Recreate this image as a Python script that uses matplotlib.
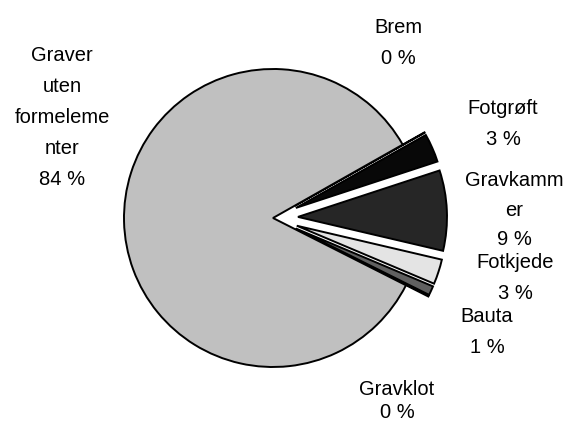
import matplotlib.pyplot as plt

plt.rcParams['font.family'] = ['Liberation Sans', 'DejaVu Sans']

# slices in clockwise order, starting at the upper edge of the big slice
categories = ['Brem', 'Fotgrøft', 'Gravkammer', 'Fotkjede', 'Bauta', 'Gravklot',
              'Graver uten formelementer']
shares = [0.05, 3.1, 8.7, 2.7, 1.0, 0.1, 84.35]
label_texts = ['Brem\n0 %', 'Fotgrøft\n3 %', 'Gravkamm\ner\n9 %', 'Fotkjede\n3 %',
               'Bauta\n1 %', 'Gravklot\n0 %', 'Graver\nuten\nformeleme\nnter\n84 %']

colors = ['#808080', '#080808', '#262626', '#e4e4e4', '#606060', '#808080', '#c0c0c0']
# offset of the pulled-out slices, in pixels
explode = [25, 25, 25, 25, 25, 25, 0]

# label block centres in pixels (x, y from top) and line spacing
label_pos = [(398, 43), (503, 124), (514, 210), (515, 278), (487, 332), (397, 401), (62, 117)]
label_ls = [1.8, 1.8, 1.7, 1.8, 1.8, 1.3, 1.8]

W, H = 568, 428
fig = plt.figure(figsize=(W / 100, H / 100), dpi=100)
ax = fig.add_axes([0, 0, 1, 1])

ax.pie(shares, colors=colors, explode=explode, startangle=29.5, counterclock=False,
       center=(273, H - 218), radius=149,
       wedgeprops=dict(edgecolor='black', linewidth=1.4))

for txt, (x, y), ls in zip(label_texts, label_pos, label_ls):
    ax.text(x, H - y, txt, ha='center', va='center', fontsize=14.5,
            linespacing=ls, multialignment='center')

ax.set_xlim(0, W)
ax.set_ylim(0, H)
ax.set_aspect('equal')
ax.axis('off')

fig.savefig('out.png', dpi=100)
